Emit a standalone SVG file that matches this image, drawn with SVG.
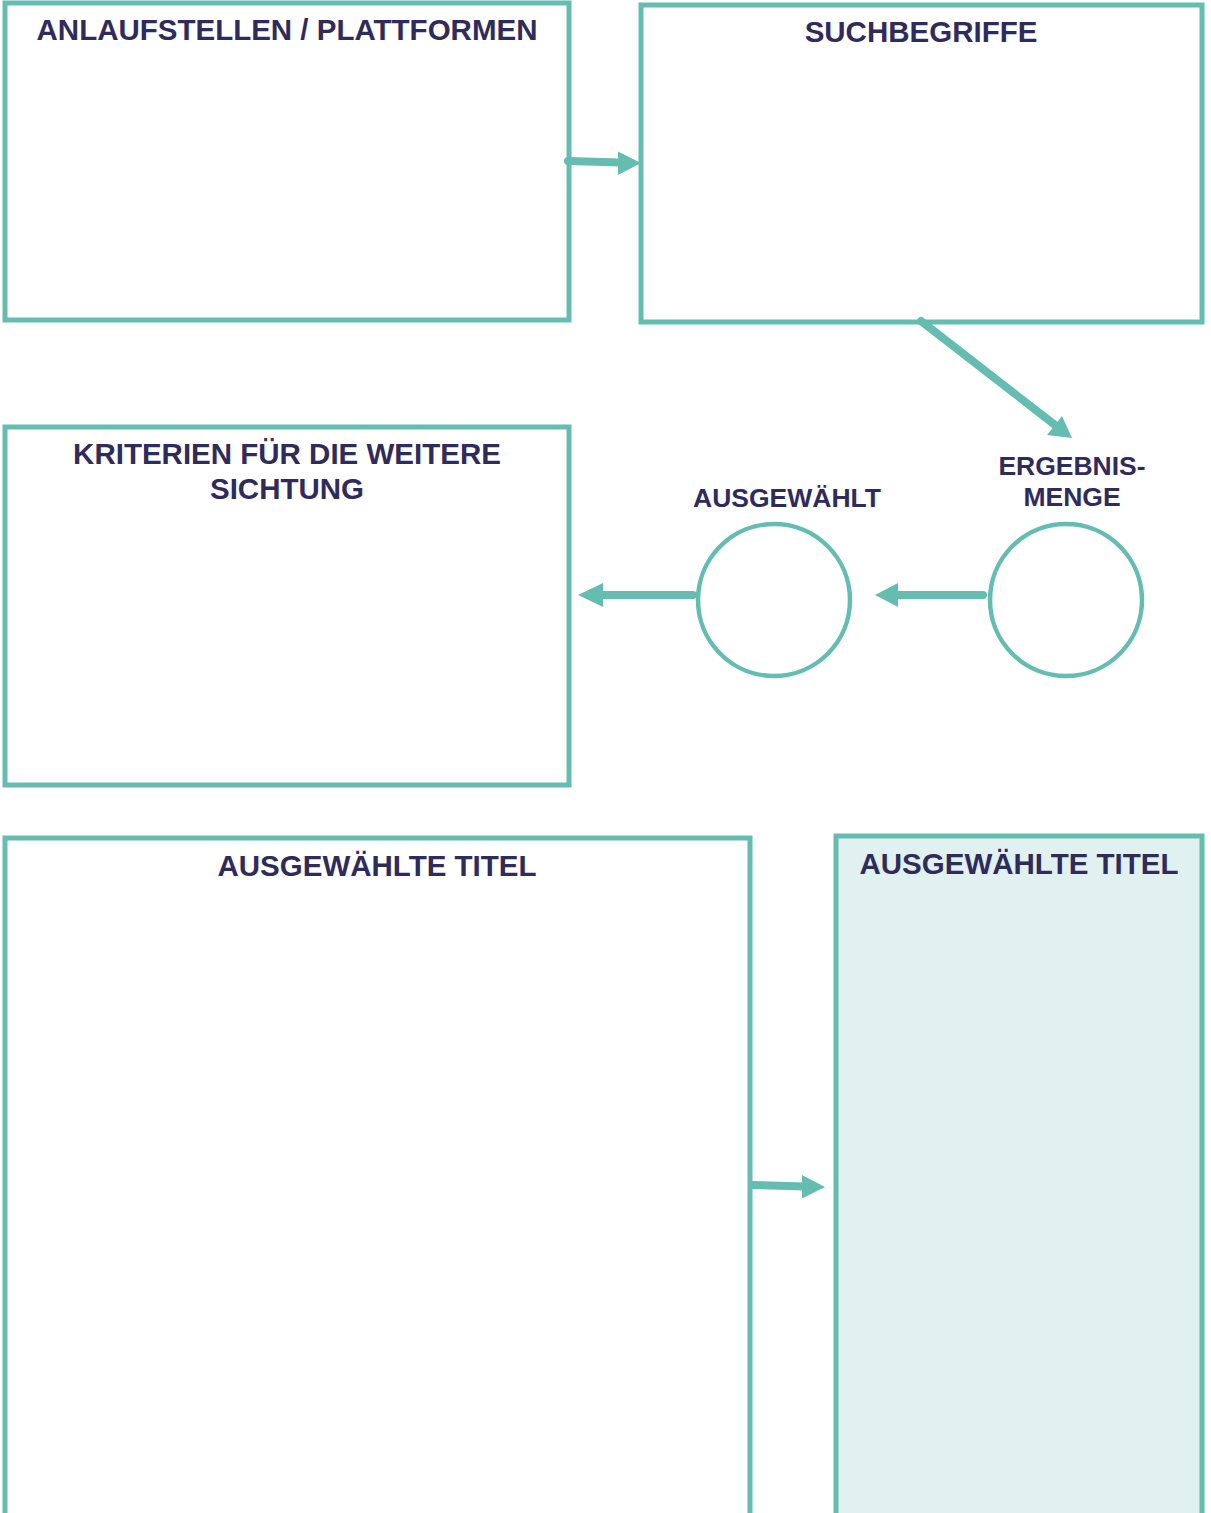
<svg xmlns="http://www.w3.org/2000/svg" width="1211" height="1513" viewBox="0 0 1211 1513">
<style>
.box{fill:#ffffff;stroke:#64BDB0;stroke-width:5}
.fbox{fill:#E0F1EF;stroke:#64BDB0;stroke-width:5}
.circ{fill:#ffffff;stroke:#64BDB0;stroke-width:4.5}
.t{font-family:"Liberation Sans",Arial,sans-serif;font-weight:bold;font-size:29.5px;fill:#2F2B5B;text-anchor:middle}
.ts{font-size:26.5px}
.c{stroke:#64BDB0;stroke-width:8;stroke-linecap:round;fill:none}
.h{fill:#64BDB0}
</style>
<rect width="1211" height="1513" fill="#ffffff"/>
<g id="anlaufstellen">
<rect class="box" x="5" y="3" width="564" height="317"/>
<text class="t" x="287" y="40">ANLAUFSTELLEN / PLATTFORMEN</text>
</g>
<g id="suchbegriffe">
<rect class="box" x="641" y="5" width="561" height="317"/>
<text class="t" x="921" y="42">SUCHBEGRIFFE</text>
</g>
<g id="kriterien">
<rect class="box" x="5" y="427" width="564" height="358"/>
<text class="t" x="287" y="464">KRITERIEN FÜR DIE WEITERE</text>
<text class="t" x="287" y="499">SICHTUNG</text>
</g>
<g id="ergebnismenge">
<circle class="circ" cx="1066" cy="600" r="76"/>
<text class="t ts" x="1072" y="475">ERGEBNIS-</text>
<text class="t ts" x="1072" y="506">MENGE</text>
</g>
<g id="ausgewaehlt">
<circle class="circ" cx="774" cy="600" r="76"/>
<text class="t ts" x="787" y="507">AUSGEWÄHLT</text>
</g>
<g id="titel1">
<rect class="box" x="5" y="838" width="745" height="700"/>
<text class="t" x="377" y="875.5">AUSGEWÄHLTE TITEL</text>
</g>
<g id="titel2">
<rect class="fbox" x="836" y="836" width="366" height="700"/>
<text class="t" x="1019" y="874">AUSGEWÄHLTE TITEL</text>
</g>
<g id="connectors">
<line class="c" x1="568" y1="161" x2="620" y2="162.5"/>
<polygon class="h" points="641,163 618,151.5 618,175"/>
<line class="c" x1="921" y1="321" x2="1055" y2="425"/>
<polygon class="h" points="1072,438 1047,435 1062,416"/>
<line class="c" x1="693" y1="595" x2="600" y2="595"/>
<polygon class="h" points="578,595 603,583 603,607"/>
<line class="c" x1="983" y1="595" x2="896" y2="595"/>
<polygon class="h" points="875,595 898,583 898,607"/>
<line class="c" x1="752" y1="1185" x2="805" y2="1186.5"/>
<polygon class="h" points="825,1187 802,1175 802,1198.5"/>
</g>
</svg>
